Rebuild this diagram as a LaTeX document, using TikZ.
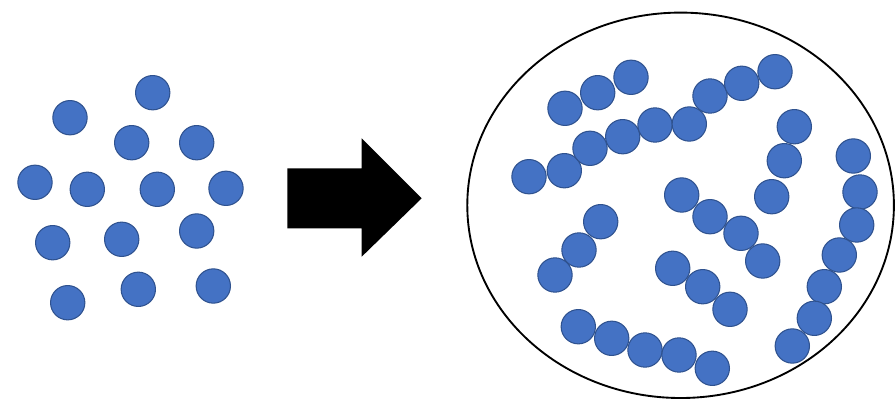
\documentclass[tikz,border=0pt]{standalone}
\usepackage{tikz}
\definecolor{beadfill}{HTML}{4472C4}
\definecolor{beadline}{HTML}{2F528F}
\tikzstyle{bead} = [circle,fill=beadfill,draw=beadline,line width=0.9pt,inner sep=0pt,minimum size=1.03cm]

\begin{document}
\begin{tikzpicture}[x=0.03cm,y=-0.03cm]
  \useasboundingbox (0,0) rectangle (896,401);

  % loose monomers
  \node[bead] (m1) at (152.7,92.7) {};
  \node[bead] (m2) at (70,117.7) {};
  \node[bead] (m3) at (131.7,142.7) {};
  \node[bead] (m4) at (196.7,142.7) {};
  \node[bead] (m5) at (35,182.3) {};
  \node[bead] (m6) at (87.3,189.3) {};
  \node[bead] (m7) at (157.3,189.3) {};
  \node[bead] (m8) at (226,188.3) {};
  \node[bead] (m9) at (52.7,242.7) {};
  \node[bead] (m10) at (121.7,239.3) {};
  \node[bead] (m11) at (196.7,231) {};
  \node[bead] (m12) at (67.7,302.7) {};
  \node[bead] (m13) at (138.3,289.3) {};
  \node[bead] (m14) at (213.3,286) {};

  % arrow
  \fill (287.3,168.3) -- (361.7,168.3) -- (361.7,138.3) -- (421.7,198.3)
    -- (361.7,256.7) -- (361.7,228.3) -- (287.3,228.3) -- cycle;

  % vessel
  \draw[line width=1.6pt] (680.6,205.3) ellipse (6.399cm and 5.781cm);

  % chains
  \node[bead] (a1) at (565,108.3) {};
  \node[bead] (a2) at (597.7,92.7) {};
  \node[bead] (a3) at (631,77.3) {};

  \node[bead] (b1) at (529,176.7) {};
  \node[bead] (b2) at (564.3,170.7) {};
  \node[bead] (b3) at (590,148.3) {};
  \node[bead] (b4) at (622.7,136.7) {};
  \node[bead] (b5) at (655,125) {};
  \node[bead] (b6) at (689.3,124) {};
  \node[bead] (b7) at (710,96) {};
  \node[bead] (b8) at (741.7,83.3) {};
  \node[bead] (b9) at (775,71.7) {};

  \node[bead] (c1) at (794.3,126.7) {};
  \node[bead] (c2) at (784.3,160.7) {};
  \node[bead] (c3) at (771.7,196.7) {};

  \node[bead] (d1) at (853.3,156) {};
  \node[bead] (d2) at (860,192) {};
  \node[bead] (d3) at (856.7,225) {};
  \node[bead] (d4) at (839.3,255) {};
  \node[bead] (d5) at (824.3,286.7) {};
  \node[bead] (d6) at (814.3,318.3) {};
  \node[bead] (d7) at (792.3,346) {};

  \node[bead] (e1) at (681.7,195) {};
  \node[bead] (e2) at (710,216.7) {};
  \node[bead] (e3) at (741,233.3) {};
  \node[bead] (e4) at (762.7,261) {};

  \node[bead] (f1) at (600.7,221.7) {};
  \node[bead] (f2) at (579,250) {};
  \node[bead] (f3) at (555,275) {};

  \node[bead] (g1) at (672.7,268.3) {};
  \node[bead] (g2) at (702.7,286.7) {};
  \node[bead] (g3) at (730,309.3) {};

  \node[bead] (h1) at (578.3,326.7) {};
  \node[bead] (h2) at (611.7,338.3) {};
  \node[bead] (h3) at (645,350) {};
  \node[bead] (h4) at (679,355) {};
  \node[bead] (h5) at (712.3,368.3) {};
\end{tikzpicture}
\end{document}
